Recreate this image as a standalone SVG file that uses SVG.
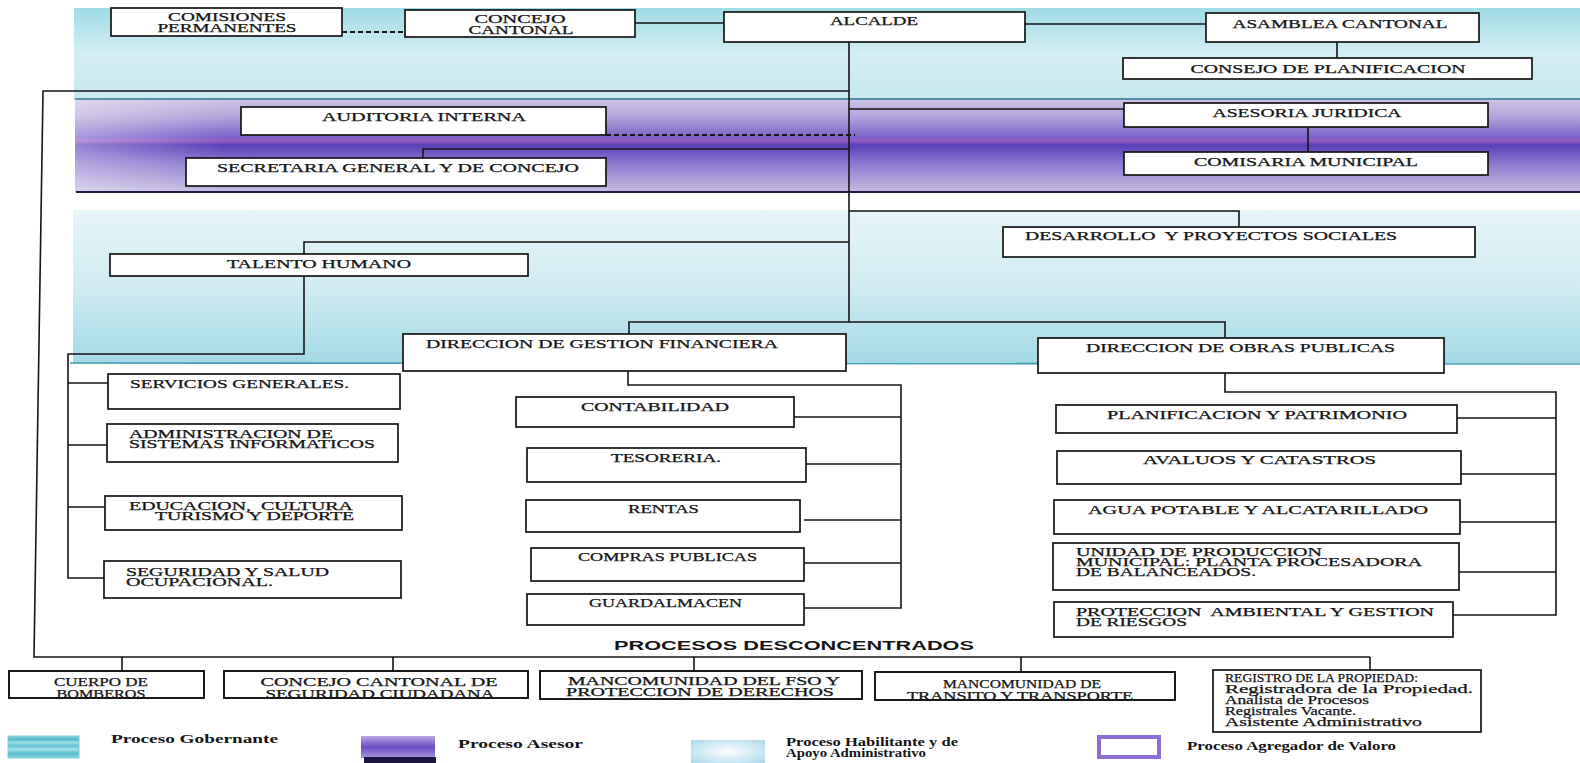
<svg xmlns="http://www.w3.org/2000/svg" width="1580" height="763" viewBox="0 0 1580 763">
<style>
.box{fill:#fff;stroke:#151515;stroke-width:1.7}
.edge{fill:none;stroke:#151515;stroke-width:1.7}
.c{fill:none;stroke:#151515;stroke-width:1.6}
.d{stroke-dasharray:5 3;stroke-width:1.8}
.t{font-family:'Liberation Serif','Times New Roman',serif;font-size:11.5px;fill:#151515;stroke:#151515;stroke-width:0.25}
.m{text-anchor:middle}
.lg{font-family:'Liberation Serif','Times New Roman',serif;font-size:11.5px;font-weight:bold;fill:#151515}
.hd{font-family:'Liberation Sans',Arial,sans-serif;font-size:13.5px;font-weight:bold;fill:#151515}
</style>
<defs>
<linearGradient id="gGob" x1="0" y1="0" x2="0" y2="1">
<stop offset="0" stop-color="#9fdbe6"/><stop offset="0.5" stop-color="#d3eef3"/><stop offset="1" stop-color="#c6e9f0"/>
</linearGradient>
<linearGradient id="gAse" x1="0" y1="0" x2="0" y2="1">
<stop offset="0" stop-color="#cfc6e6"/><stop offset="0.2" stop-color="#b3a5dc"/><stop offset="0.42" stop-color="#7a62c8"/><stop offset="0.45" stop-color="#9a5cc4"/><stop offset="0.5" stop-color="#5a3fb8"/><stop offset="0.7" stop-color="#8c7acf"/><stop offset="1" stop-color="#c7bce2"/>
</linearGradient>
<linearGradient id="gAseH" x1="0" y1="0" x2="1" y2="0">
<stop offset="0" stop-color="#ffffff" stop-opacity="0.35"/><stop offset="0.1" stop-color="#ffffff" stop-opacity="0"/><stop offset="1" stop-color="#ffffff" stop-opacity="0"/>
</linearGradient>
<linearGradient id="gHab" x1="0" y1="0" x2="0" y2="1">
<stop offset="0" stop-color="#e6f5f8"/><stop offset="0.5" stop-color="#d0ecf2"/><stop offset="1" stop-color="#a3d9e6"/>
</linearGradient>
<linearGradient id="gSwG" x1="0" y1="0" x2="0" y2="1">
<stop offset="0" stop-color="#8fd5e0"/><stop offset="0.15" stop-color="#4fb6c9"/><stop offset="0.3" stop-color="#9ee0e9"/><stop offset="0.45" stop-color="#5ec0d1"/><stop offset="0.6" stop-color="#a6e3eb"/><stop offset="0.8" stop-color="#56bbcd"/><stop offset="1" stop-color="#8ed4df"/>
</linearGradient>
<linearGradient id="gSwA" x1="0" y1="0" x2="0" y2="1">
<stop offset="0" stop-color="#b9a8e2"/><stop offset="0.5" stop-color="#6a4cc2"/><stop offset="1" stop-color="#a996dc"/>
</linearGradient>
<radialGradient id="gSwH" cx="0.5" cy="0.5" r="0.7">
<stop offset="0" stop-color="#ffffff"/><stop offset="1" stop-color="#a9d8ea"/>
</radialGradient>
</defs>

<g id="bands">
<rect x="74" y="8" width="1506" height="92" fill="url(#gGob)"/>
<rect x="75" y="98" width="1505" height="94" fill="url(#gAse)"/>
<rect x="75" y="98" width="1505" height="94" fill="url(#gAseH)"/>
<line x1="75" y1="99" x2="1580" y2="99" stroke="#2f7a92" stroke-width="1.6"/>
<line x1="76" y1="192" x2="1580" y2="192" stroke="#1c1a4a" stroke-width="2.2"/>
<rect x="73" y="210" width="1507" height="153" fill="url(#gHab)"/>
<line x1="70" y1="363" x2="1580" y2="364" stroke="#3f9db0" stroke-width="1.6"/>
</g>

<g id="connectors">
<path class="c d" d="M342,32 H405"/>
<path class="c" d="M635,23 H724"/>
<path class="c" d="M1025,24 H1206"/>
<path class="c" d="M1337,42 V58"/>
<path class="c" d="M849,42 V322"/>
<path class="c" d="M849,91 H43 L34,657 H1370"/>
<path class="c" d="M122,657 V671 M393,657 V671 M694,657 V671 M1021,657 V672 M1370,657 V670"/>
<path class="c" d="M849,109 H1124"/>
<path class="c" d="M1308,127 V152"/>
<path class="c d" d="M606,135 H855"/>
<path class="c" d="M849,149 H423 V158"/>
<path class="c" d="M849,211 H1239 V227"/>
<path class="c" d="M849,242 H304 V254 M304,276 V354 H68 V578 H104"/>
<path class="c" d="M68,383 H108 M68,445 H107 M68,507 H105"/>
<path class="c" d="M629,334 V322 H1225 V338"/>
<path class="c" d="M628,371 V385 H901 V608 H804"/>
<path class="c" d="M794,417 H901 M806,464 H901 M804,520 H901 M804,563 H901"/>
<path class="c" d="M1225,373 V392 H1556 V615 H1453"/>
<path class="c" d="M1457,418 H1556 M1461,474 H1556 M1460,522 H1556 M1459,572 H1556"/>
</g>

<g id="comisiones"><rect class="box" x="111" y="8" width="231" height="28"/>
<text class="t m" x="227" y="21" textLength="118" lengthAdjust="spacingAndGlyphs">COMISIONES</text>
<text class="t m" x="227" y="32" textLength="139" lengthAdjust="spacingAndGlyphs">PERMANENTES</text></g>
<g id="concejo"><rect class="box" x="405" y="10" width="230" height="27"/>
<text class="t m" x="520" y="23" textLength="91" lengthAdjust="spacingAndGlyphs">CONCEJO</text>
<text class="t m" x="521" y="34" textLength="105" lengthAdjust="spacingAndGlyphs">CANTONAL</text></g>
<g id="alcalde"><rect class="box" x="724" y="12" width="301" height="30"/>
<text class="t m" x="874" y="25" textLength="88" lengthAdjust="spacingAndGlyphs">ALCALDE</text></g>
<g id="asamblea"><rect class="box" x="1206" y="13" width="273" height="29"/>
<text class="t m" x="1340" y="28" textLength="215" lengthAdjust="spacingAndGlyphs">ASAMBLEA CANTONAL</text></g>
<g id="consejo"><rect class="box" x="1123" y="58" width="409" height="21"/>
<text class="t m" x="1328" y="73" textLength="275" lengthAdjust="spacingAndGlyphs">CONSEJO DE PLANIFICACION</text></g>
<g id="auditoria"><rect class="box" x="241" y="107" width="365" height="28"/>
<text class="t m" x="424" y="121" textLength="204" lengthAdjust="spacingAndGlyphs">AUDITORIA INTERNA</text></g>
<g id="secretaria"><rect class="box" x="186" y="158" width="420" height="28"/>
<text class="t m" x="398" y="172" textLength="362" lengthAdjust="spacingAndGlyphs">SECRETARIA GENERAL Y DE CONCEJO</text></g>
<g id="asesoria"><rect class="box" x="1124" y="103" width="364" height="24"/>
<text class="t m" x="1307" y="117" textLength="189" lengthAdjust="spacingAndGlyphs">ASESORIA JURIDICA</text></g>
<g id="comisaria"><rect class="box" x="1124" y="152" width="364" height="23"/>
<text class="t m" x="1306" y="166" textLength="224" lengthAdjust="spacingAndGlyphs">COMISARIA MUNICIPAL</text></g>
<g id="desarrollo"><rect class="box" x="1003" y="227" width="472" height="30"/>
<text class="t" x="1025" y="240" xml:space="preserve" textLength="372" lengthAdjust="spacingAndGlyphs">DESARROLLO  Y PROYECTOS SOCIALES</text></g>
<g id="talento"><rect class="box" x="110" y="254" width="418" height="22"/>
<text class="t m" x="319" y="268" textLength="184" lengthAdjust="spacingAndGlyphs">TALENTO HUMANO</text></g>
<g id="dgf"><rect class="box" x="403" y="334" width="443" height="37"/>
<text class="t" x="426" y="348" textLength="352" lengthAdjust="spacingAndGlyphs">DIRECCION DE GESTION FINANCIERA</text></g>
<g id="dop"><rect class="box" x="1038" y="338" width="406" height="35"/>
<text class="t" x="1086" y="352" textLength="309" lengthAdjust="spacingAndGlyphs">DIRECCION DE OBRAS PUBLICAS</text></g>

<g id="servicios"><rect class="box" x="108" y="374" width="292" height="35"/>
<text class="t" x="130" y="388" textLength="219" lengthAdjust="spacingAndGlyphs">SERVICIOS GENERALES.</text></g>
<g id="sistemas"><rect class="box" x="107" y="424" width="291" height="38"/>
<text class="t" x="129" y="438" textLength="204" lengthAdjust="spacingAndGlyphs">ADMINISTRACION DE</text>
<text class="t" x="129" y="448" textLength="246" lengthAdjust="spacingAndGlyphs">SISTEMAS INFORMATICOS</text></g>
<g id="educacion"><rect class="box" x="105" y="496" width="297" height="34"/>
<text class="t" x="129" y="510" xml:space="preserve" textLength="224" lengthAdjust="spacingAndGlyphs">EDUCACION,  CULTURA</text>
<text class="t" x="155" y="520" textLength="199" lengthAdjust="spacingAndGlyphs">TURISMO Y DEPORTE</text></g>
<g id="seguridad"><rect class="box" x="104" y="561" width="297" height="37"/>
<text class="t" x="126" y="576" textLength="203" lengthAdjust="spacingAndGlyphs">SEGURIDAD Y SALUD</text>
<text class="t" x="126" y="586" textLength="147" lengthAdjust="spacingAndGlyphs">OCUPACIONAL.</text></g>

<g id="contabilidad"><rect class="box" x="516" y="397" width="278" height="30"/>
<text class="t" x="581" y="411" textLength="148" lengthAdjust="spacingAndGlyphs">CONTABILIDAD</text></g>
<g id="tesoreria"><rect class="box" x="527" y="448" width="279" height="34"/>
<text class="t" x="611" y="462" textLength="110" lengthAdjust="spacingAndGlyphs">TESORERIA.</text></g>
<g id="rentas"><rect class="box" x="526" y="500" width="274" height="32"/>
<text class="t" x="628" y="513" textLength="71" lengthAdjust="spacingAndGlyphs">RENTAS</text></g>
<g id="compras"><rect class="box" x="531" y="548" width="273" height="33"/>
<text class="t" x="578" y="561" textLength="179" lengthAdjust="spacingAndGlyphs">COMPRAS PUBLICAS</text></g>
<g id="guardalmacen"><rect class="box" x="527" y="594" width="277" height="31"/>
<text class="t" x="589" y="607" textLength="153" lengthAdjust="spacingAndGlyphs">GUARDALMACEN</text></g>

<g id="planificacion"><rect class="box" x="1056" y="405" width="401" height="28"/>
<text class="t" x="1107" y="419" textLength="300" lengthAdjust="spacingAndGlyphs">PLANIFICACION Y PATRIMONIO</text></g>
<g id="avaluos"><rect class="box" x="1057" y="451" width="404" height="33"/>
<text class="t" x="1143" y="464" textLength="233" lengthAdjust="spacingAndGlyphs">AVALUOS Y CATASTROS</text></g>
<g id="agua"><rect class="box" x="1054" y="500" width="406" height="34"/>
<text class="t" x="1088" y="514" textLength="340" lengthAdjust="spacingAndGlyphs">AGUA POTABLE Y ALCATARILLADO</text></g>
<g id="unidad"><rect class="box" x="1053" y="543" width="406" height="47"/>
<text class="t" x="1076" y="556" textLength="246" lengthAdjust="spacingAndGlyphs">UNIDAD DE PRODUCCION</text>
<text class="t" x="1076" y="566" textLength="346" lengthAdjust="spacingAndGlyphs">MUNICIPAL: PLANTA PROCESADORA</text>
<text class="t" x="1076" y="576" textLength="180" lengthAdjust="spacingAndGlyphs">DE BALANCEADOS.</text></g>
<g id="proteccion"><rect class="box" x="1054" y="602" width="399" height="35"/>
<text class="t" x="1076" y="616" xml:space="preserve" textLength="358" lengthAdjust="spacingAndGlyphs">PROTECCION  AMBIENTAL Y GESTION</text>
<text class="t" x="1076" y="626" textLength="111" lengthAdjust="spacingAndGlyphs">DE RIESGOS</text></g>

<text class="hd" x="614" y="650" textLength="360" lengthAdjust="spacingAndGlyphs">PROCESOS DESCONCENTRADOS</text>

<g id="bomberos"><rect class="box" x="9" y="671" width="195" height="27"/>
<text class="t m" x="101" y="686" textLength="94" lengthAdjust="spacingAndGlyphs">CUERPO DE</text>
<text class="t m" x="101" y="698" textLength="89" lengthAdjust="spacingAndGlyphs">BOMBEROS</text>
<rect class="edge" x="9" y="671" width="195" height="27"/></g>
<g id="concejo-seguridad"><rect class="box" x="224" y="671" width="304" height="27"/>
<text class="t m" x="379" y="686" textLength="237" lengthAdjust="spacingAndGlyphs">CONCEJO CANTONAL DE</text>
<text class="t m" x="380" y="698" textLength="229" lengthAdjust="spacingAndGlyphs">SEGURIDAD CIUDADANA</text>
<rect class="edge" x="224" y="671" width="304" height="27"/></g>
<g id="mancomunidad-fso"><rect class="box" x="540" y="671" width="322" height="28"/>
<text class="t m" x="704" y="685" textLength="272" lengthAdjust="spacingAndGlyphs">MANCOMUNIDAD DEL FSO Y</text>
<text class="t m" x="700" y="696" textLength="268" lengthAdjust="spacingAndGlyphs">PROTECCION DE DERECHOS</text>
<rect class="edge" x="540" y="671" width="322" height="28"/></g>
<g id="mancomunidad-transito"><rect class="box" x="875" y="672" width="300" height="28"/>
<text class="t m" x="1022" y="688" textLength="158" lengthAdjust="spacingAndGlyphs">MANCOMUNIDAD DE</text>
<text class="t m" x="1020" y="700" textLength="226" lengthAdjust="spacingAndGlyphs">TRANSITO Y TRANSPORTE</text>
<rect class="edge" x="875" y="672" width="300" height="28"/></g>
<g id="registro"><rect class="box" x="1213" y="670" width="268" height="62"/>
<text class="t" x="1225" y="682" textLength="193" lengthAdjust="spacingAndGlyphs">REGISTRO DE LA PROPIEDAD:</text>
<text class="t" x="1225" y="693" textLength="248" lengthAdjust="spacingAndGlyphs">Registradora de la Propiedad.</text>
<text class="t" x="1225" y="704" textLength="144" lengthAdjust="spacingAndGlyphs">Analista de Procesos</text>
<text class="t" x="1225" y="715" textLength="131" lengthAdjust="spacingAndGlyphs">Registrales Vacante.</text>
<text class="t" x="1225" y="726" textLength="197" lengthAdjust="spacingAndGlyphs">Asistente Administrativo</text></g>

<g id="legend">
<rect x="8" y="736" width="71" height="22" fill="url(#gSwG)" stroke="#7fcbd8" stroke-width="1"/>
<text class="lg" x="111" y="743" textLength="167" lengthAdjust="spacingAndGlyphs">Proceso Gobernante</text>
<rect x="361" y="736" width="74" height="22" fill="url(#gSwA)"/>
<rect x="364" y="757" width="72" height="6" fill="#1c1640"/>
<text class="lg" x="458" y="748" textLength="125" lengthAdjust="spacingAndGlyphs">Proceso Asesor</text>
<rect x="691" y="740" width="74" height="23" fill="url(#gSwH)"/>
<text class="lg" x="786" y="746" textLength="172" lengthAdjust="spacingAndGlyphs">Proceso Habilitante y de</text>
<text class="lg" x="786" y="757" textLength="140" lengthAdjust="spacingAndGlyphs">Apoyo Administrativo</text>
<rect x="1099" y="737" width="60" height="20" fill="#fff" stroke="#8b6fd6" stroke-width="4"/>
<text class="lg" x="1187" y="750" textLength="209" lengthAdjust="spacingAndGlyphs">Proceso Agregador de Valoro</text>
</g>
</svg>
